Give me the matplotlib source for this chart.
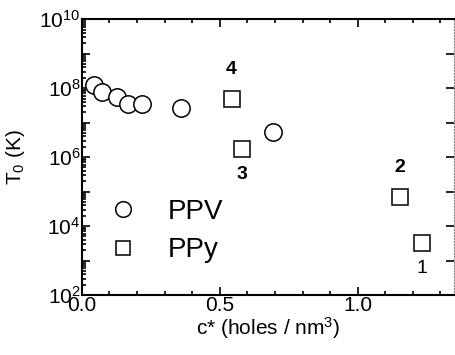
import matplotlib.pyplot as plt
import numpy as np
from matplotlib.ticker import FixedLocator, LogLocator, MultipleLocator, NullFormatter

plt.rcParams['font.family'] = ['Liberation Sans', 'DejaVu Sans']
plt.rcParams['mathtext.fontset'] = 'custom'
plt.rcParams['mathtext.rm'] = 'Liberation Sans'
plt.rcParams['mathtext.it'] = 'Liberation Sans'

# PPV data (circles)
ppv_c = [0.043, 0.072, 0.127, 0.167, 0.217, 0.359, 0.692]
ppv_t = [1.2e8, 7.6e7, 5.5e7, 3.4e7, 3.4e7, 2.6e7, 5.3e6]

# PPy data (squares) with sample numbers
ppy_c = [1.232, 1.152, 0.580, 0.543]
ppy_t = [3.2e3, 6.9e4, 1.7e6, 4.8e7]
ppy_lab = ['1', '2', '3', '4']
lab_above = [False, True, False, True]

fig = plt.figure(figsize=(4.55, 3.55), dpi=100)
ax = fig.add_axes([0.180, 0.169, 0.817, 0.777])

ax.plot(ppv_c, ppv_t, 'o', ms=12.5, mfc='white', mec='black', mew=1.1,
        ls='none', label='PPV')
ax.plot(ppy_c, ppy_t, 's', ms=11, mfc='white', mec='black', mew=1.1,
        ls='none', label='PPy')

for c, t, s, up in zip(ppy_c, ppy_t, ppy_lab, lab_above):
    off = 21 if up else -18
    ax.annotate(s, (c, t), xytext=(0, off), textcoords='offset points',
                ha='center', va='center', fontsize=14,
                fontweight='bold' if s != '1' else 'normal')

ax.set_yscale('log')
ax.set_xlim(0, 1.348)
ax.set_ylim(1e2, 1e10)

ax.xaxis.set_major_locator(FixedLocator([0.0, 0.5, 1.0]))
ax.xaxis.set_minor_locator(MultipleLocator(0.1))
ax.set_xticklabels(['0.0', '0.5', '1.0'])

ax.yaxis.set_major_locator(FixedLocator([10.0**k for k in range(2, 11)]))
ax.yaxis.set_minor_locator(LogLocator(base=10, subs=np.arange(2, 10), numticks=20))
ax.yaxis.set_minor_formatter(NullFormatter())
ax.set_yticklabels(['$10^{%d}$' % k if k % 2 == 0 else '' for k in range(2, 11)])

ax.tick_params(which='both', direction='in', top=True, right=True,
               labelsize=15, width=1.2, pad=1)
ax.tick_params(which='major', length=6)
ax.tick_params(which='minor', length=3)
ax.tick_params(axis='y', which='minor', right=False)

for sp in ['left', 'bottom', 'top']:
    ax.spines[sp].set_linewidth(1.5)
ax.spines['right'].set_linestyle(':')
ax.spines['right'].set_color('0.5')

ax.set_xlabel('c* (holes / nm$^3$)', fontsize=15, labelpad=0)
ax.set_ylabel('T$_0$ (K)', fontsize=15)
ax.yaxis.set_label_coords(-0.149, 0.5)

ax.legend(loc='lower left', bbox_to_anchor=(0.036, 0.074), frameon=False,
          fontsize=20, markerscale=0.9, handlelength=1.2, handletextpad=1.0,
          labelspacing=0.45, borderaxespad=0)

fig.savefig('out.png', dpi=100)
